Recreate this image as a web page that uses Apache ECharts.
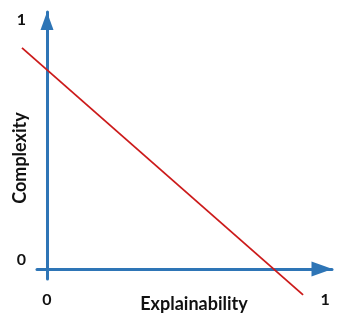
<!DOCTYPE html>
<html>
<head>
<meta charset="utf-8">
<script src="https://cdn.jsdelivr.net/npm/echarts@6/dist/echarts.min.js"></script>
<style>
html,body{margin:0;padding:0;background:#fff;}
#chart{width:350px;height:327px;}
</style>
</head>
<body>
<div id="chart"></div>
<script>
// Data
var xTickValues = [0, 1];
var yTickValues = [0, 1];
var xAxisName = 'Explainability';
var yAxisName = 'Complexity';
var tradeoffX = [-0.09, 0.921];
var tradeoffY = [0.888, -0.104];

var BLUE = '#2e75b6';
var RED = '#cc1a1a';
var FONT = 'Lato';

var chart = echarts.init(document.getElementById('chart'), null, {renderer: 'canvas'});
var lineCoords = tradeoffX.map(function (x, i) { return [x, tradeoffY[i]]; });

chart.setOption({
  animation: false,
  backgroundColor: '#ffffff',
  grid: {left: 37, right: 18, top: 12, bottom: 48, containLabel: false, outerBoundsMode: 'none'},
  xAxis: {
    type: 'value',
    min: -0.036,
    max: 1.025,
    name: xAxisName,
    nameLocation: 'middle',
    nameGap: 16,
    nameMoveOverlap: false,
    nameTextStyle: {fontFamily: FONT, fontWeight: 'bold', fontSize: 18, color: '#111', padding: [0, 0, 0, 19]},
    axisLine: {
      show: true, onZero: true,
      lineStyle: {color: BLUE, width: 3},
      symbol: ['none', 'triangle'], symbolSize: [15, 21], symbolOffset: [0, -10]
    },
    axisTick: {show: false},
    splitLine: {show: false},
    axisLabel: {
      customValues: xTickValues,
      margin: 13,
      fontFamily: FONT, fontWeight: 'bold', fontSize: 16, color: '#111'
    }
  },
  yAxis: {
    type: 'value',
    min: -0.04,
    max: 1.032,
    name: yAxisName,
    nameLocation: 'middle',
    nameRotate: 90,
    nameGap: 8,
    nameMoveOverlap: false,
    nameTextStyle: {fontFamily: FONT, fontWeight: 'bold', fontSize: 18, color: '#111', padding: [0, 25, 0, 0]},
    axisLine: {
      show: true, onZero: true,
      lineStyle: {color: BLUE, width: 3},
      symbol: ['none', 'triangle'], symbolSize: [13, 18], symbolOffset: [0, -9]
    },
    axisTick: {show: false},
    splitLine: {show: false},
    axisLabel: {
      customValues: yTickValues,
      margin: 11,
      fontFamily: FONT, fontWeight: 'bold', fontSize: 16, color: '#111',
      formatter: function (v) { return v === 0 ? '{z|0}' : '{o|' + v + '}'; },
      rich: {
        z: {fontFamily: FONT, fontWeight: 'bold', fontSize: 16, color: '#111', padding: [0, 0, 18, 0]},
        o: {fontFamily: FONT, fontWeight: 'bold', fontSize: 16, color: '#111'}
      }
    }
  },
  series: [{
    type: 'lines',
    coordinateSystem: 'cartesian2d',
    clip: false,
    polyline: false,
    data: [{coords: lineCoords}],
    lineStyle: {color: RED, width: 1.8, opacity: 1},
    symbol: 'none',
    z: 5
  }]
});
</script>
</body>
</html>
